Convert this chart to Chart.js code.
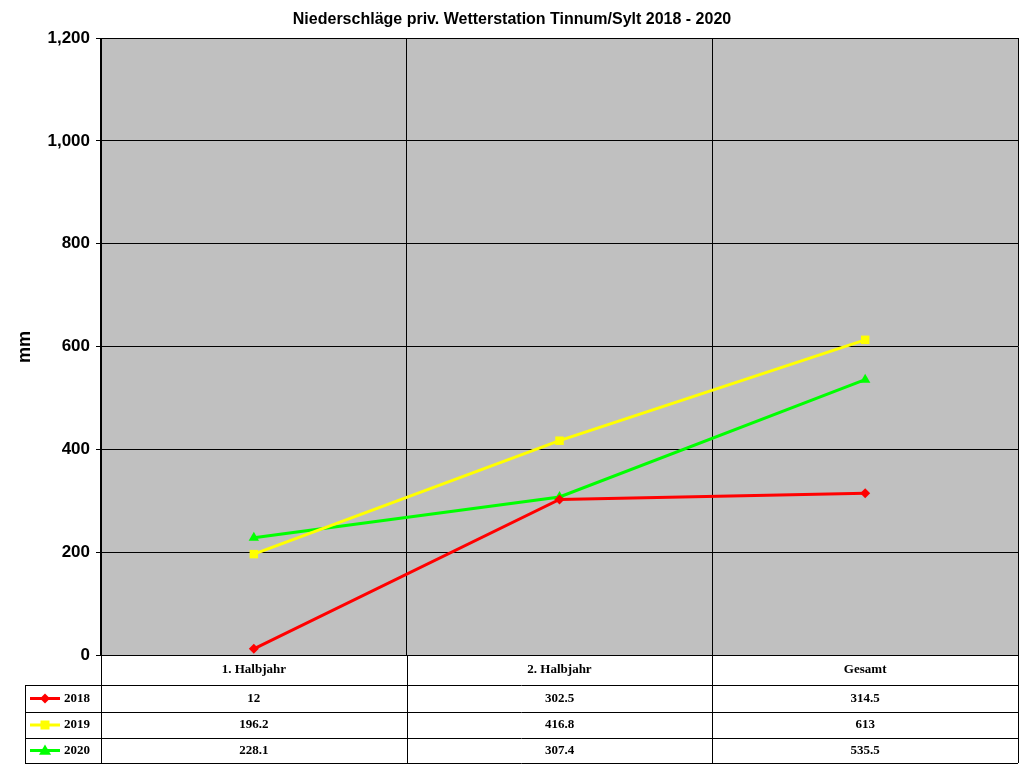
<!DOCTYPE html>
<html><head><meta charset="utf-8">
<script src="https://cdn.jsdelivr.net/npm/chart.js@4"></script>
<style>html,body{margin:0;background:#fff}</style>
</head><body><canvas id="c" width="1024" height="768"></canvas>
<script>
const categories = ['1. Halbjahr', '2. Halbjahr', 'Gesamt']
const years = ['2018', '2019', '2020']
const values2018 = [12, 302.5, 314.5]
const values2019 = [196.2, 416.8, 613]
const values2020 = [228.1, 307.4, 535.5]
const yTicks = [0, 200, 400, 600, 800, 1000, 1200]

const colors = ['#FF0000', '#FFFF00', '#00FF00']
const shapes = ['rectRot', 'rect', 'triangle']
const radii = [5, 6, 6]
const series = [values2018, values2019, values2020]

function drawMarker(ctx, shape, x, y, r, color) {
  ctx.fillStyle = color
  ctx.beginPath()
  if (shape === 'rectRot') { ctx.moveTo(x, y - r); ctx.lineTo(x + r, y); ctx.lineTo(x, y + r); ctx.lineTo(x - r, y) }
  else if (shape === 'rect') { ctx.rect(x - r * 0.75, y - r * 0.75, r * 1.5, r * 1.5) }
  else { ctx.moveTo(x, y - r); ctx.lineTo(x + r, y + r * 0.7); ctx.lineTo(x - r, y + r * 0.7) }
  ctx.closePath(); ctx.fill()
}

const extras = {
  id: 'extras',
  beforeDraw(chart) {
    const { ctx, chartArea: a } = chart
    ctx.save(); ctx.fillStyle = '#C0C0C0'
    ctx.fillRect(a.left, a.top, a.right - a.left, a.bottom - a.top); ctx.restore()
  },
  afterDraw(chart) {
    const { ctx, chartArea: a } = chart
    const x = chart.scales.x
    ctx.save()
    ctx.fillStyle = '#000'; ctx.textAlign = 'center'; ctx.textBaseline = 'middle'
    ctx.font = 'bold 16px "Liberation Sans", Arial'
    ctx.fillText('Niederschläge priv. Wetterstation Tinnum/Sylt 2018 - 2020', 512, 20)
    ctx.save(); ctx.translate(25, 347); ctx.rotate(-Math.PI / 2)
    ctx.font = 'bold 18px "Liberation Sans", Arial'; ctx.fillText('mm', 0, 0); ctx.restore()
    // data table
    const step = (a.right - a.left) / categories.length
    const rows = [a.bottom, 685, 712, 738, 763]
    const leftCol = 25
    ctx.strokeStyle = '#000'; ctx.lineWidth = 1
    ctx.beginPath()
    for (let i = 0; i <= categories.length; i++) {
      const lx = Math.round(a.left + step * i) + 0.5
      ctx.moveTo(lx, rows[0]); ctx.lineTo(lx, rows[4])
    }
    ctx.moveTo(leftCol + 0.5, rows[1]); ctx.lineTo(leftCol + 0.5, rows[4])
    ctx.moveTo(a.left, rows[0] + 0.5); ctx.lineTo(a.right, rows[0] + 0.5)
    for (let r = 1; r < rows.length; r++) { ctx.moveTo(leftCol, rows[r] + 0.5); ctx.lineTo(a.right, rows[r] + 0.5) }
    ctx.stroke()
    ctx.font = 'bold 13px "Liberation Serif", "Times New Roman"'
    categories.forEach((c, i) => ctx.fillText(c, x.getPixelForValue(i), (rows[0] + rows[1]) / 2))
    series.forEach((vals, s) => {
      const cy = (rows[s + 1] + rows[s + 2]) / 2
      ctx.fillStyle = '#000'
      vals.forEach((v, i) => ctx.fillText(String(v), x.getPixelForValue(i), cy))
      ctx.strokeStyle = colors[s]; ctx.lineWidth = 3
      ctx.beginPath(); ctx.moveTo(30, cy); ctx.lineTo(60, cy); ctx.stroke()
      drawMarker(ctx, shapes[s], 45, cy, radii[s], colors[s])
      ctx.fillStyle = '#000'
      ctx.textAlign = 'left'; ctx.fillText(years[s], 64, cy); ctx.textAlign = 'center'
    })
    ctx.restore()
  }
}

new Chart(document.getElementById('c'), {
  type: 'line',
  data: {
    labels: categories,
    datasets: series.map((vals, s) => ({
      label: years[s], data: vals, borderColor: colors[s], backgroundColor: colors[s],
      borderWidth: 3, pointStyle: shapes[s], pointRadius: radii[s], pointBorderWidth: 0, tension: 0
    }))
  },
  options: {
    responsive: false, animation: false, devicePixelRatio: 1,
    layout: { padding: { top: 38, right: 4, bottom: 113, left: 0 } },
    plugins: { legend: { display: false }, title: { display: false }, tooltip: { enabled: false } },
    scales: {
      x: {
        offset: true,
        ticks: { display: false },
        grid: { color: '#000', offset: true, drawTicks: false },
        border: { color: '#000' }
      },
      y: {
        min: 0, max: 1200,
        afterFit(s) { s.width = 101 },
        afterBuildTicks(s) { s.ticks = yTicks.map(v => ({ value: v })) },
        ticks: { color: '#000', font: { family: '"Liberation Sans", Arial', size: 17, weight: 'bold' }, padding: 6 },
        grid: { color: '#000', tickLength: 5 },
        border: { color: '#000' }
      }
    }
  },
  plugins: [extras]
})
</script>
</body></html>
